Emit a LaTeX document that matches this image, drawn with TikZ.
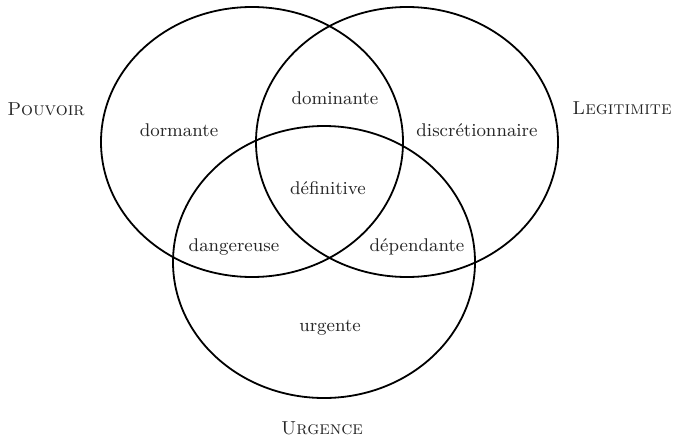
\documentclass[tikz,border=0pt]{standalone}
\usepackage{tikz}

\tikzset{
  zone/.style={font=\fontsize{9.2}{11}\selectfont, text=black!85, inner sep=0pt},
  attr/.style={font=\fontsize{9.4}{11}\selectfont\scshape, text=black!85, inner sep=0pt}
}

\begin{document}
\begin{tikzpicture}[x=0.5pt,y=-0.5pt,line width=0.9pt]
                    \useasboundingbox (0,0) rectangle (673,439);
                    \draw (252,142) ellipse [x radius=151, y radius=135];
                    \draw (407,142) ellipse [x radius=151, y radius=135];
                    \draw (324,262) ellipse [x radius=151, y radius=136];
                    \node[attr] (pouvoir) at (46,109) {Pouvoir};
                    \node[attr] (legitimite) at (622,108) {Legitimite};
                    \node[attr] (urgence) at (322,428) {Urgence};
                    \node[zone] (dormante) at (179,130) {dormante};
                    \node[zone] (dominante) at (335,98) {dominante};
                    \node[zone] (discretionnaire) at (477,130) {discrétionnaire};
                    \node[zone] (definitive) at (328,188) {définitive};
                    \node[zone] (dangereuse) at (234,247) {dangereuse};
                    \node[zone] (dependante) at (417,247) {dépendante};
                    \node[zone] (urgente) at (330,328) {urgente};
                \end{tikzpicture}
\end{document}
